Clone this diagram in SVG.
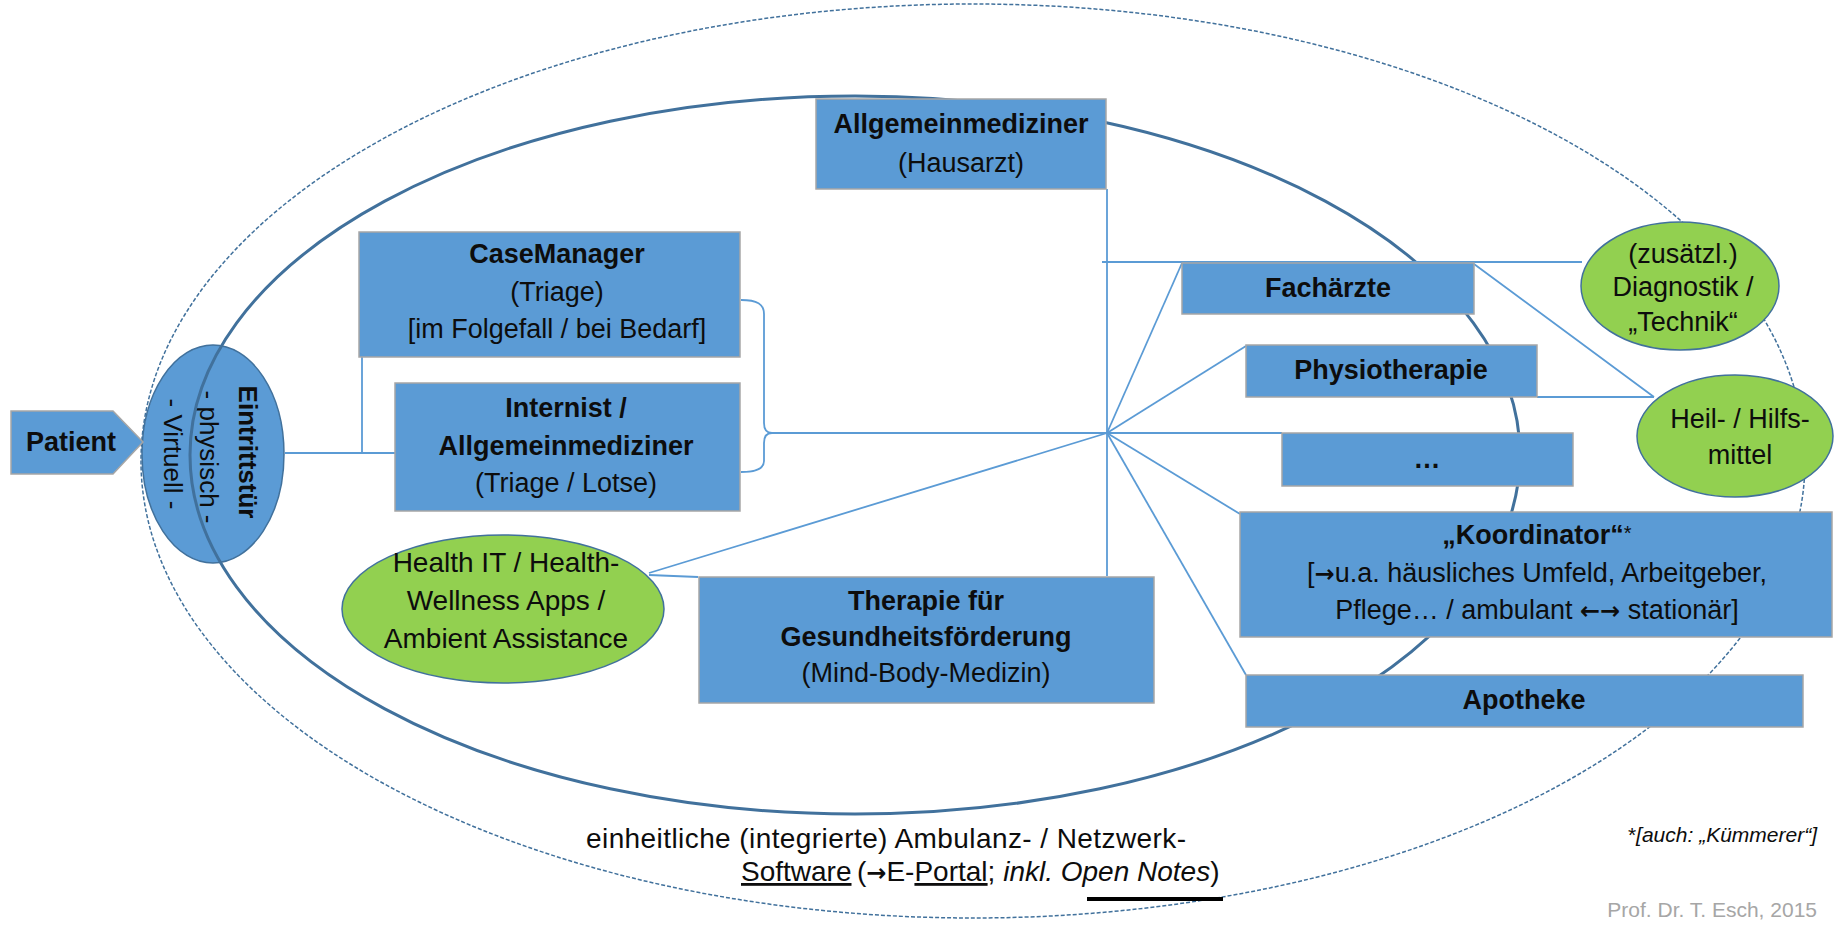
<svg xmlns="http://www.w3.org/2000/svg" width="1837" height="925" viewBox="0 0 1837 925">
<style>
text{font-family:"Liberation Sans",Arial,sans-serif;font-size:27px;fill:#0d0d0d}
.b{font-weight:bold}
.c{text-anchor:middle}
.box{fill:#5b9bd5;stroke:#a6a6a6;stroke-width:1.5}
.green{fill:#92d050;stroke:#41719c;stroke-width:1.5}
.door{fill:#5b9bd5;stroke:#41719c;stroke-width:1.5}
.conn{stroke:#5b9bd5;stroke-width:1.8;fill:none}
.u{text-decoration:underline}
.arr{font-family:"DejaVu Sans",sans-serif;font-weight:bold;font-size:24px}
.s26{font-size:26px}
.s28{font-size:28px}
.foot{font-size:21px}
.prof{font-size:21px;fill:#a6a6a6}
.star{font-size:20px}
</style>
<rect width="1837" height="925" fill="#fff"/>

<g id="eintrittstuer">
<ellipse class="door" cx="213" cy="454" rx="71" ry="109"/>
<g transform="translate(213,454) rotate(90)">
<text class="b c s26" x="-2" y="-26">Eintrittstür</text>
<text class="c s26" x="3" y="13">- physisch -</text>
<text class="c s26" x="0" y="49">- Virtuell -</text>
</g>
</g>

<g id="ellipses">
<ellipse cx="973" cy="461" rx="832" ry="457" fill="none" stroke="#41719c" stroke-width="1.5" stroke-dasharray="4 2"/>
<ellipse cx="855" cy="455" rx="665" ry="359" fill="none" stroke="#41719c" stroke-width="3"/>
</g>

<g id="connectors">
<path class="conn" d="M285,453 L395,453 M362,357 L362,453"/>
<path class="conn" d="M741,300 C757,300 764,304 764,314 L764,423 C764,429 766,433 772,433 C766,433 764,437 764,443 L764,461 C764,468 757,472 741,472"/>
<path class="conn" d="M772,433 L1282,433"/>
<path class="conn" d="M1107,189 L1107,576"/>
<path class="conn" d="M1102,262 L1582,262"/>
<path class="conn" d="M1107,433 L1182,263"/>
<path class="conn" d="M1107,433 L1246,346"/>
<path class="conn" d="M1107,433 L1240,514"/>
<path class="conn" d="M1107,433 L1246,675"/>
<path class="conn" d="M1107,433 L649,573"/>
<path class="conn" d="M649,575 L698,577"/>
<path class="conn" d="M1474,264 L1654,397 M1537,397 L1654,397"/>
</g>

<g id="patient">
<polygon class="box" points="11,411 113,411 143,442 113,474 11,474"/>
<text class="b c" x="71" y="451">Patient</text>
</g>

<g id="allgemeinmediziner">
<rect class="box" x="816" y="99" width="290" height="90"/>
<text class="b c" x="961" y="133">Allgemeinmediziner</text>
<text class="c" x="961" y="172">(Hausarzt)</text>
</g>

<g id="casemanager">
<rect class="box" x="359" y="232" width="381" height="125"/>
<text class="b c" x="557" y="263">CaseManager</text>
<text class="c" x="557" y="301">(Triage)</text>
<text class="c" x="557" y="338">[im Folgefall / bei Bedarf]</text>
</g>

<g id="internist">
<rect class="box" x="395" y="383" width="345" height="128"/>
<text class="b c" x="566" y="417">Internist /</text>
<text class="b c" x="566" y="455">Allgemeinmediziner</text>
<text class="c" x="566" y="492">(Triage / Lotse)</text>
</g>

<g id="healthit">
<ellipse class="green" cx="503" cy="609" rx="161" ry="74"/>
<text class="c s28" x="506" y="572">Health IT / Health-</text>
<text class="c s28" x="506" y="610">Wellness Apps /</text>
<text class="c s28" x="506" y="648">Ambient Assistance</text>
</g>

<g id="therapie">
<rect class="box" x="699" y="577" width="455" height="126"/>
<text class="b c" x="926" y="610">Therapie für</text>
<text class="b c" x="926" y="646">Gesundheitsförderung</text>
<text class="c" x="926" y="682">(Mind-Body-Medizin)</text>
</g>

<g id="fachaerzte">
<rect class="box" x="1182" y="263" width="292" height="51"/>
<text class="b c" x="1328" y="297">Fachärzte</text>
</g>

<g id="physiotherapie">
<rect class="box" x="1246" y="345" width="291" height="52"/>
<text class="b c" x="1391" y="379">Physiotherapie</text>
</g>

<g id="weitere">
<rect class="box" x="1282" y="433" width="291" height="53"/>
<text class="b c" x="1427" y="468">…</text>
</g>

<g id="koordinator">
<rect class="box" x="1240" y="512" width="592" height="125"/>
<text class="c" x="1537" y="544"><tspan class="b">„Koordinator“</tspan><tspan class="star" dy="-4">*</tspan></text>
<text class="c" x="1537" y="582">[<tspan class="arr">→</tspan>u.a. häusliches Umfeld, Arbeitgeber,</text>
<text class="c" x="1537" y="619">Pflege… / ambulant <tspan class="arr">←→</tspan> stationär]</text>
</g>

<g id="apotheke">
<rect class="box" x="1246" y="675" width="557" height="52"/>
<text class="b c" x="1524" y="709">Apotheke</text>
</g>

<g id="diagnostik">
<ellipse class="green" cx="1680" cy="286" rx="99" ry="64"/>
<text class="c" x="1683" y="263">(zusätzl.)</text>
<text class="c" x="1683" y="296">Diagnostik /</text>
<text class="c" x="1683" y="331">„Technik“</text>
</g>

<g id="hilfsmittel">
<ellipse class="green" cx="1735" cy="436" rx="98" ry="61"/>
<text class="c" x="1740" y="428">Heil- / Hilfs-</text>
<text class="c" x="1740" y="464">mittel</text>
</g>

<g id="software">
<text class="s28" x="586" y="848" textLength="600" lengthAdjust="spacing">einheitliche (integrierte) Ambulanz- / Netzwerk-</text>
<text class="s28" y="881"><tspan x="741" class="u">Software</tspan><tspan x="857">(</tspan><tspan class="arr">→</tspan><tspan>E-</tspan><tspan class="u">Portal</tspan><tspan>;</tspan><tspan font-style="italic"> inkl. Open Notes</tspan><tspan>)</tspan></text>
<rect x="1087" y="897" width="136" height="4" fill="#000"/>
</g>

<text class="foot" x="1817" y="842" text-anchor="end">*<tspan font-style="italic">[auch: „Kümmerer“]</tspan></text>
<text class="prof" x="1817" y="917" text-anchor="end">Prof. Dr. T. Esch, 2015</text>
</svg>
